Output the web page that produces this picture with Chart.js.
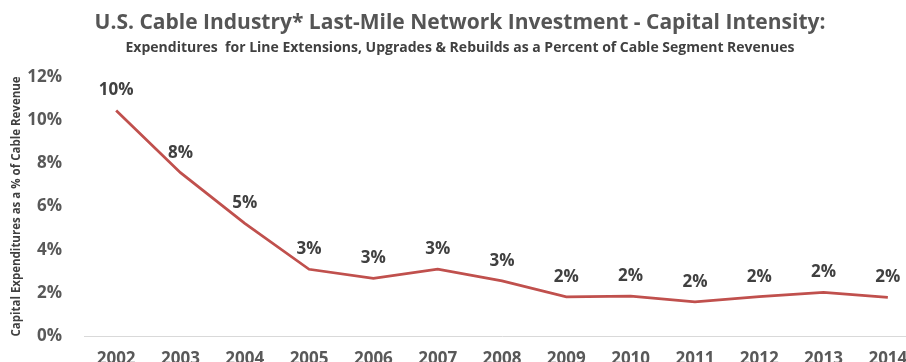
<!DOCTYPE html>
<html>
<head>
<meta charset="utf-8">
<script src="https://cdn.jsdelivr.net/npm/chart.js@4"></script>
<style>
  html, body { margin: 0; padding: 0; background: #fff; overflow: hidden; }
  #wrap { width: 928px; height: 362px; }
</style>
</head>
<body>
<div id="wrap"><canvas id="capexChart" width="928" height="362"></canvas></div>
<script>
const YEARS = ["2002", "2003", "2004", "2005", "2006", "2007", "2008", "2009", "2010", "2011", "2012", "2013", "2014"];
// capital intensity, % of cable revenue
const CAPEX_PCT = [10.45, 7.57, 5.22, 3.09, 2.67, 3.1, 2.55, 1.81, 1.85, 1.58, 1.82, 2.02, 1.79];
const Y_TICKS = [0, 2, 4, 6, 8, 10, 12];

const FONT = "'Open Sans', 'DejaVu Sans', sans-serif";

// simple value labels above each point (no datalabels plugin offline)
const pointLabels = {
  id: "pointLabels",
  afterDatasetsDraw(chart) {
    const ctx = chart.ctx;
    const meta = chart.getDatasetMeta(0);
    ctx.save();
    ctx.font = `bold 17px ${FONT}`;
    ctx.fillStyle = "#404040";
    ctx.textAlign = "center";
    ctx.textBaseline = "alphabetic";
    meta.data.forEach((pt, i) => {
      const txt = Math.round(CAPEX_PCT[i]) + "%";
      ctx.fillText(txt, pt.x, pt.y - 15);
    });
    ctx.restore();
  },
};

const ctx = document.getElementById("capexChart").getContext("2d");

new Chart(ctx, {
  type: "line",
  data: {
    labels: YEARS,
    datasets: [
      {
        label: "Capital intensity",
        data: CAPEX_PCT,
        borderColor: "#c0504d",
        borderWidth: 2.75,
        pointRadius: 0,
        tension: 0,
        fill: false,
      },
    ],
  },
  options: {
    responsive: false,
    animation: false,
    layout: { padding: { left: 0, right: 8, top: 0, bottom: 0 } },
    plugins: {
      legend: { display: false },
      tooltip: { enabled: false },
      title: {
        display: true,
        text: "U.S. Cable Industry* Last-Mile Network Investment - Capital Intensity:",
        color: "#555555",
        font: { family: FONT, size: 21, weight: "bold" },
        padding: { top: 10, bottom: 4 },
      },
      subtitle: {
        display: true,
        text: "Expenditures  for Line Extensions, Upgrades & Rebuilds as a Percent of Cable Segment Revenues",
        color: "#404040",
        font: { family: FONT, size: 14, weight: "bold" },
        padding: { top: 0, bottom: 21 },
      },
    },
    scales: {
      x: {
        type: "category",
        offset: true,
        grid: { display: false },
        border: { display: true, color: "#d9d9d9", width: 1 },
        ticks: {
          color: "#595959",
          font: { family: FONT, size: 17, weight: "bold" },
          padding: 5,
          maxRotation: 0,
          autoSkip: false,
        },
        afterFit: (s) => { s.height = 26; },
      },
      y: {
        min: 0,
        max: 12,
        grid: { display: false },
        border: { display: false },
        afterBuildTicks: (s) => { s.ticks = Y_TICKS.map((v) => ({ value: v })); },
        ticks: {
          color: "#595959",
          font: { family: FONT, size: 17, weight: "bold" },
          padding: 14,
          callback: (v) => v + "%",
        },
        title: {
          display: true,
          text: "Capital Expenditures as a % of Cable Revenue",
          color: "#404040",
          font: { family: FONT, size: 11.5, weight: "bold" },
          padding: { top: 10, bottom: 0 },
        },
        afterFit: (s) => { s.width = 84; },
      },
    },
  },
  plugins: [pointLabels],
});
</script>
</body>
</html>
